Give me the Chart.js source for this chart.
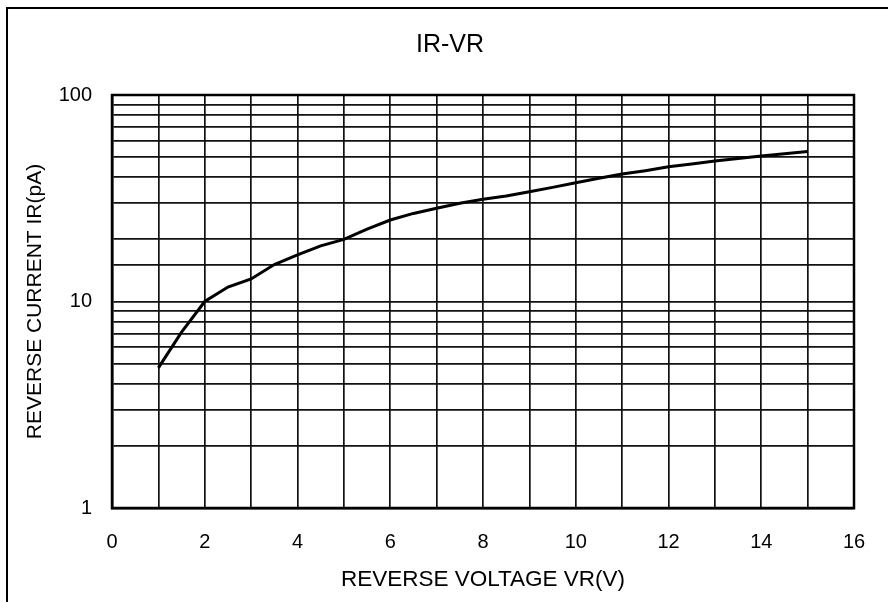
<!DOCTYPE html>
<html>
<head>
<meta charset="utf-8">
<script src="https://cdn.jsdelivr.net/npm/chart.js@4.4.1/dist/chart.umd.min.js"></script>
<style>
  html, body { margin: 0; padding: 0; background: #fff; }
  #wrap { width: 888px; height: 602px; position: relative; }
</style>
</head>
<body>
<div id="wrap"><canvas id="c" width="888" height="602"></canvas></div>
<script>
// Reverse voltage (V) and reverse current (pA)
const reverseVoltage = [1, 1.5, 2, 2.5, 3, 3.5, 4, 4.5, 5, 5.5, 6, 6.5, 7, 7.5, 8, 8.5, 9, 9.5, 10, 10.5, 11, 11.5, 12, 12.5, 13, 13.5, 14, 14.5, 15];
const reverseCurrent = [4.77, 7.1, 10.0, 11.75, 12.85, 15.1, 16.8, 18.6, 20.0, 22.4, 24.8, 26.7, 28.3, 29.9, 31.3, 32.4, 34.0, 35.7, 37.6, 39.5, 41.4, 43.0, 44.9, 46.3, 47.9, 49.2, 50.7, 52.0, 53.3];

// Axis ranges and labelled ticks
const xRange = [0, 16];
const xLabelTicks = [0, 2, 4, 6, 8, 10, 12, 14, 16];
const yRange = [1, 100];
const yLabelTicks = [1, 10, 100];

const chartTitle = 'IR-VR';
const xTitle = 'REVERSE VOLTAGE VR(V)';
const yTitle = 'REVERSE CURRENT IR(pA)';

const FONT = '"Liberation Sans", Arial, sans-serif';

const points = reverseVoltage.map((v, i) => ({ x: v, y: reverseCurrent[i] }));

// Outer frame, heading and plot border
const decorations = {
  id: 'decorations',
  beforeDraw(chart) {
    const ctx = chart.ctx;
    ctx.save();
    ctx.fillStyle = '#fff';
    ctx.fillRect(0, 0, chart.width, chart.height);
    ctx.strokeStyle = '#000';
    ctx.lineWidth = 2;
    ctx.strokeRect(7, 8, 1200, 1200);
    ctx.fillStyle = '#000';
    ctx.font = '25px ' + FONT;
    ctx.textAlign = 'center';
    ctx.textBaseline = 'middle';
    ctx.fillText(chartTitle, 450, 45);
    ctx.restore();
  },
  afterDatasetsDraw(chart) {
    const a = chart.chartArea;
    const ctx = chart.ctx;
    ctx.save();
    ctx.strokeStyle = '#000';
    ctx.lineWidth = 2.5;
    ctx.strokeRect(a.left, a.top, a.right - a.left, a.bottom - a.top);
    ctx.restore();
  }
};

new Chart(document.getElementById('c'), {
  type: 'line',
  data: {
    datasets: [{
      data: points,
      borderColor: '#000',
      borderWidth: 3,
      pointRadius: 0,
      tension: 0,
      fill: false
    }]
  },
  options: {
    responsive: false,
    animation: false,
    devicePixelRatio: 1,
    layout: { padding: { left: 0, top: 95, right: 34, bottom: 0 } },
    plugins: {
      legend: { display: false },
      title: { display: false },
      tooltip: { enabled: false }
    },
    scales: {
      x: {
        type: 'linear',
        min: xRange[0],
        max: xRange[1],
        afterFit(s) { s.height = 94; },
        ticks: {
          stepSize: 1,
          autoSkip: false,
          maxRotation: 0,
          padding: 22,
          color: '#000',
          font: { family: FONT, size: 20 },
          callback: (v) => xLabelTicks.includes(v) ? String(v) : ''
        },
        grid: { color: '#111', lineWidth: 1.7, drawTicks: false },
        border: { display: true, color: '#000', width: 2.5 },
        title: {
          display: true,
          text: xTitle,
          color: '#000',
          font: { family: FONT, size: 22.5 },
          padding: { top: 0, bottom: 9 }
        }
      },
      y: {
        type: 'logarithmic',
        min: yRange[0],
        max: yRange[1],
        afterFit(s) { s.width = 112; },
        ticks: {
          autoSkip: false,
          padding: 20,
          color: '#000',
          font: { family: FONT, size: 20 },
          callback: (v) => yLabelTicks.includes(v) ? String(v) : ''
        },
        grid: { color: '#111', lineWidth: 1.7, drawTicks: false },
        border: { display: true, color: '#000', width: 2.5 },
        title: {
          display: true,
          text: yTitle,
          color: '#000',
          font: { family: FONT, size: 21 },
          padding: { top: 23, bottom: 0 }
        }
      }
    }
  },
  plugins: [decorations]
});
</script>
</body>
</html>
